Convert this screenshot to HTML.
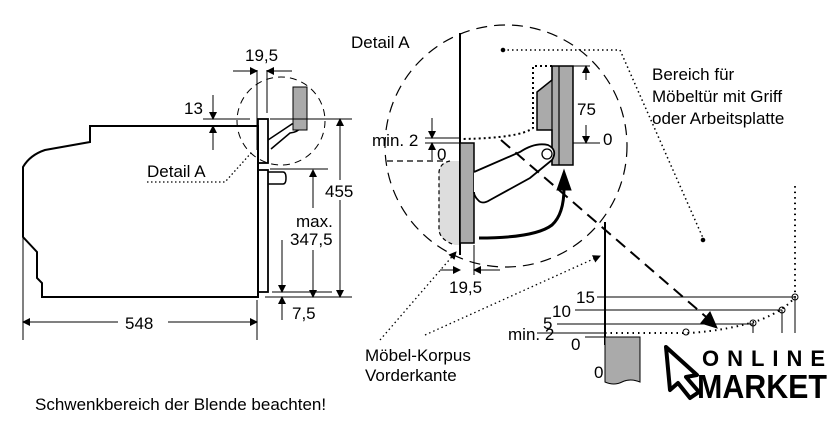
<!DOCTYPE html>
<html><head><meta charset="utf-8"><style>
html,body{margin:0;padding:0;background:#fff;}
svg{display:block;font-family:"Liberation Sans",Arial,sans-serif;}
</style></head><body>
<svg width="840" height="437" viewBox="0 0 840 437" xmlns="http://www.w3.org/2000/svg">
<defs>
<marker id="a" markerWidth="8" markerHeight="8" refX="7" refY="4" orient="auto" markerUnits="userSpaceOnUse"><path d="M0,0 L8,4 L0,8 z" fill="#000"/></marker>
</defs>
<g fill="none" stroke="#000">
<path d="M258,126 H90 V142 L45,150 Q30,155 23,167 V237 L37,252 V278 L42,283 V297 H258 Z" stroke-width="2"/>
<rect x="258" y="119" width="10" height="44" stroke-width="1.8"/>
<rect x="258" y="170" width="10" height="122" stroke-width="1.8"/>
<path d="M268,172 H283 Q286,172 286,178 Q286,184 283,184 H268" stroke-width="1.5"/>
<path d="M268,140 L292,124 Q300,122 300,128 Q298,132 290,133 L271,149" stroke-width="1.5"/>
<rect x="293" y="87" width="14" height="43" fill="#aaa" stroke-width="1"/>
<circle cx="281" cy="121" r="44" stroke-dasharray="7,5" stroke-width="1"/>
<g stroke-width="1">
<path d="M270,119 H352 M265,297 H352 M270,169 H328 M272,292 H332 M203,119 H250 M203,126 H222 M257,70 V150 M267,70 V113 M23,218 V340 M257,300 V340"/>
<path d="M340,180 V119" marker-end="url(#a)"/><path d="M340,200 V297" marker-end="url(#a)"/>
<path d="M313,208 V170" marker-end="url(#a)"/><path d="M313,250 V297" marker-end="url(#a)"/>
<path d="M282,240 V292" marker-end="url(#a)"/><path d="M282,320 V297" marker-end="url(#a)"/>
<path d="M213,95 V119" marker-end="url(#a)"/><path d="M213,150 V126" marker-end="url(#a)"/>
<path d="M233,71 H257" marker-end="url(#a)"/><path d="M292,71 H267" marker-end="url(#a)"/>
<path d="M118,322 H23" marker-end="url(#a)"/><path d="M168,322 H257" marker-end="url(#a)"/>
</g>
<path d="M147,182 H225 L252,152" stroke-dasharray="1.5,2.5" stroke-width="1.3"/>
<circle cx="506" cy="146" r="121" stroke-dasharray="11,7" stroke-width="1.2"/>
<path d="M443,161 H385" stroke-dasharray="6,4" stroke-width="1.2"/>
<path d="M460,161 H450 Q440,163 439,172 V230 Q440,240 455,245 H460 Z" fill="#ddd" stroke="none"/>
<path d="M450,161 Q440,163 439,172 V230 Q440,240 455,245" stroke-dasharray="4,3" stroke-width="1.2"/>
<path d="M460,33 V255" stroke-width="2"/>
<rect x="460" y="143" width="14" height="100" fill="#aaa" stroke-width="1.5"/>
<path d="M552,66 H573 V165 H552 V130 H537 V92 L552,80 Z" fill="#aaa" stroke-width="1.5"/>
<path d="M552,66 V165 M559,66 V165" stroke-width="1.2"/>
<path d="M552,66 H533 V128 Q520,138 462,139" stroke-dasharray="2,3" stroke-width="2"/>
<path d="M474,172 L520,152 Q535,142 548,145 Q558,150 552,160 L530,178 L490,200 Q482,205 478,200 Q474,196 474,192" fill="#fff" stroke-width="1.8"/>
<circle cx="547" cy="154" r="5" fill="#fff" stroke-width="1.3"/>
<path d="M479,238 Q535,238 552,225 Q564,214 564,188" stroke-width="3"/>
<path d="M557,190 L564,170 L571,190 Z" fill="#000"/>
<g stroke-width="1">
<path d="M586,80 V66" marker-end="url(#a)"/><path d="M586,125 V143" marker-end="url(#a)"/>
<path d="M573,143 H600 M573,66 H590 M425,138 H460 M425,143 H460"/>
<path d="M432,118 V138" marker-end="url(#a)"/><path d="M432,160 V143" marker-end="url(#a)"/>
<path d="M440,270 H460" marker-end="url(#a)"/><path d="M500,270 H474" marker-end="url(#a)"/>
<path d="M474,245 V275"/>
</g>
<path d="M501,140 L712,322" stroke-dasharray="12,7" stroke-width="2"/>
<path d="M701,323 L717,328 L710,312 Z" fill="#000"/>
<path d="M503,50 H620 L703,238" stroke-dasharray="1.5,3" stroke-width="1.5"/>
<circle cx="503" cy="50" r="1.8" fill="#000"/><circle cx="703" cy="240" r="1.8" fill="#000"/>
<path d="M380,340 L456,252" stroke-dasharray="1.5,3" stroke-width="1.3" marker-end="url(#a)"/>
<path d="M425,335 L600,256" stroke-dasharray="1.5,3" stroke-width="1.3" marker-end="url(#a)"/>
<path d="M605,222 V345" stroke-width="2"/>
<path d="M597,297 H795 M575,310 H782 M557,324 H753 M537,333 H605 M585,337 H605 M753,323 V333 M782,310 V333 M795,297 V333" stroke-width="1"/>
<path d="M605,337 H640 V382 Q630,378 622,382 Q614,386 605,382 Z" fill="#aaa" stroke-width="1"/>
<path d="M605,333 H690 Q730,330 760,320 Q785,310 795,297 V185" stroke-dasharray="1.5,4" stroke-width="2"/>
<g stroke-width="1"><circle cx="686" cy="332" r="3"/><circle cx="753" cy="323" r="3"/><circle cx="782" cy="310" r="3"/><circle cx="795" cy="297" r="3"/></g>
<path d="M666,347 L697,375 L686,377 L699,392 L690,398 L678,383 L670,390 Z" stroke-width="4" stroke-linejoin="round"/>
</g>
<g font-size="17" fill="#000">
<text x="245" y="61">19,5</text>
<text x="184" y="114">13</text>
<rect x="325" y="180" width="32" height="20" fill="#fff"/>
<text x="325" y="197">455</text>
<rect x="292" y="210" width="40" height="40" fill="#fff"/>
<text x="296" y="227">max.</text><text x="290" y="245">347,5</text>
<text x="292" y="319">7,5</text>
<rect x="118" y="312" width="50" height="20" fill="#fff"/>
<text x="125" y="329">548</text>
<text x="147" y="177">Detail A</text>
<text x="351" y="48">Detail A</text>
<rect x="577" y="99" width="20" height="20" fill="#fff"/>
<text x="577" y="115">75</text>
<text x="603" y="145">0</text>
<text x="372" y="146">min. 2</text>
<text x="437" y="160">0</text>
<text x="449" y="293">19,5</text>
<text x="652" y="80">Bereich für</text>
<text x="652" y="102">Möbeltür mit Griff</text>
<text x="652" y="124">oder Arbeitsplatte</text>
<text x="576" y="303">15</text>
<text x="552" y="317">10</text>
<text x="543" y="329">5</text>
<text x="508" y="340">min. 2</text>
<text x="571" y="350">0</text>
<text x="594" y="378">0</text>
<text x="365" y="361">Möbel-Korpus</text>
<text x="365" y="381">Vorderkante</text>
<text x="35" y="410">Schwenkbereich der Blende beachten!</text>
<text x="702" y="366" font-size="22" font-weight="bold" textLength="123" lengthAdjust="spacing">ONLINE</text>
<text x="697" y="398" font-size="33" font-weight="bold" textLength="130" lengthAdjust="spacingAndGlyphs">MARKET</text>
</g>
</svg>
</body></html>
